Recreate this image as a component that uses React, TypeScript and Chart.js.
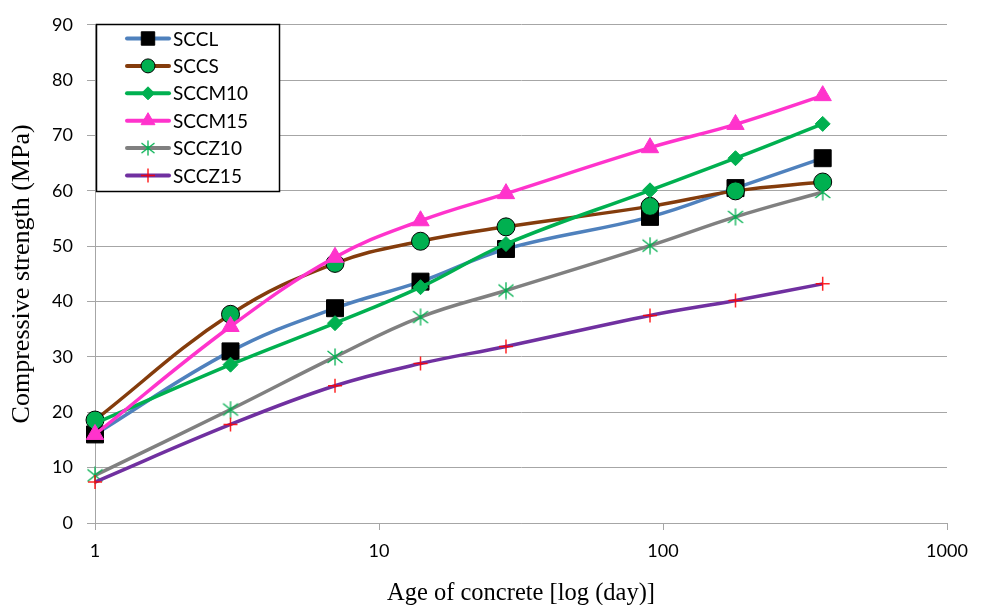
import React, { useEffect, useRef } from 'react';
import { Chart, registerables } from 'chart.js';
import { drawPoint } from 'chart.js/helpers';

Chart.register(...registerables);

const days = [1, 3, 7, 14, 28, 90, 180, 365];
const xTicks = [1, 10, 100, 1000];
const seriesNames = ['SCCL', 'SCCS', 'SCCM10', 'SCCM15', 'SCCZ10', 'SCCZ15'];
const SCCL = [16.0, 31.0, 38.8, 43.6, 49.5, 55.3, 60.5, 65.9];
const SCCS = [18.6, 37.7, 46.9, 50.9, 53.5, 57.2, 60.0, 61.6];
const SCCM10 = [18.0, 28.6, 36.1, 42.6, 50.4, 60.1, 65.9, 72.1];
const SCCM15 = [16.0, 35.5, 48.0, 54.6, 59.5, 67.8, 72.0, 77.2];
const SCCZ10 = [8.6, 20.5, 30.0, 37.2, 42.0, 50.1, 55.3, 59.8];
const SCCZ15 = [7.4, 17.8, 24.8, 28.8, 31.9, 37.5, 40.2, 43.2];

function makeStar(size: number) {
  const c = document.createElement('canvas');
  c.width = size;
  c.height = size;
  const g = c.getContext('2d')!;
  g.strokeStyle = '#00b050';
  g.lineWidth = 1.3;
  const m = size / 2;
  g.beginPath();
  g.moveTo(m, 0.5);
  g.lineTo(m, size - 0.5);
  g.moveTo(1.5, 3);
  g.lineTo(size - 1.5, size - 3);
  g.moveTo(1.5, size - 3);
  g.lineTo(size - 1.5, 3);
  g.stroke();
  return c;
}

const legendPlugin = {
  id: 'boxLegend',
  afterDraw(chart: any) {
    const ctx = chart.ctx as CanvasRenderingContext2D;
    const legendRadius = [9.5, 7, 6.5, 8, 7, 7];
    ctx.save();
    const x0 = 96.5, y0 = 24.5, w = 183, h = 167;
    ctx.fillStyle = '#ffffff';
    ctx.fillRect(x0, y0, w, h);
    ctx.strokeStyle = '#000000';
    ctx.lineWidth = 1.5;
    ctx.strokeRect(x0, y0, w, h);
    chart.data.datasets.forEach((ds: any, i: number) => {
      const cy = 38.5 + i * 27.4;
      ctx.strokeStyle = ds.borderColor;
      ctx.lineWidth = 4;
      ctx.lineCap = 'round';
      ctx.beginPath();
      ctx.moveTo(127, cy);
      ctx.lineTo(169, cy);
      ctx.stroke();
      ctx.lineCap = 'butt';
      ctx.fillStyle = ds.pointBackgroundColor;
      ctx.strokeStyle = ds.pointBorderColor;
      ctx.lineWidth = ds.pointBorderWidth;
      let style = ds.pointStyle;
      if (style instanceof HTMLCanvasElement) style = ds.legendStar;
      drawPoint(ctx, { pointStyle: style, radius: legendRadius[i], borderWidth: ds.pointBorderWidth, rotation: 0 } as any, 148, cy);
      ctx.fillStyle = '#000';
      ctx.font = '19px Lato';
      ctx.textAlign = 'left';
      ctx.textBaseline = 'middle';
      ctx.fillText(ds.label, 173, cy + 1);
    });
    ctx.restore();
  },
};

export default function App() {
  const ref = useRef<HTMLCanvasElement>(null);
  useEffect(() => {
    document.body.style.margin = '0';
    document.body.style.overflow = 'hidden';
    const star = makeStar(18);
    const legendStar = makeStar(16);
    const values = [SCCL, SCCS, SCCM10, SCCM15, SCCZ10, SCCZ15];
    const lineColors = ['#4f81bd', '#843c0c', '#00b050', '#ff33cc', '#808080', '#7030a0'];
    const styles: any[] = ['rect', 'circle', 'rectRot', 'triangle', star, 'cross'];
    const radii = [12, 9, 7.5, 10, 9, 7];
    const fills = ['#000000', '#00b050', '#00b050', '#ff33cc', '#00b050', '#ff0000'];
    const borders = ['#000000', '#000000', '#00b050', '#ff33cc', '#00b050', 'rgba(255,0,0,0.85)'];
    const bw = [1, 1, 1, 1, 1, 1.5];
    const datasets = seriesNames.map((name, i) => ({
      label: name,
      data: days.map((d, j) => ({ x: d, y: values[i][j] })),
      borderColor: lineColors[i],
      backgroundColor: lineColors[i],
      borderWidth: 3.5,
      tension: 0.4,
      pointStyle: styles[i],
      pointRadius: radii[i],
      pointHoverRadius: radii[i],
      pointBackgroundColor: fills[i],
      pointBorderColor: borders[i],
      pointBorderWidth: bw[i],
      legendStar,
      order: 5 - i,
      clip: false as any,
    }));
    const chart = new Chart(ref.current!, {
      type: 'line',
      data: { datasets },
      plugins: [legendPlugin],
      options: {
        animation: false,
        responsive: false,
        maintainAspectRatio: false,
        layout: { padding: { top: 24, right: 35, left: 0, bottom: 0 } },
        plugins: { legend: { display: false }, tooltip: { enabled: false } },
        scales: {
          x: {
            type: 'logarithmic',
            min: 1,
            max: 1000,
            afterBuildTicks: (scale: any) => {
              scale.ticks = xTicks.map((v) => ({ value: v }));
            },
            afterFit: (scale: any) => {
              scale.height = 82;
            },
            ticks: {
              autoSkip: false,
              maxRotation: 0,
              color: '#000',
              font: { family: 'Lato', size: 18 },
              padding: 10,
              callback: (v: any) => String(v),
            },
            grid: { drawOnChartArea: false, drawTicks: true, tickLength: 7, color: '#a6a6a6' },
            border: { display: true, color: '#a6a6a6', width: 1 },
            title: {
              display: true,
              text: 'Age of concrete [log (day)]',
              color: '#000',
              font: { family: 'Liberation Serif', size: 24.5 },
              padding: { top: 4, bottom: -3 },
            },
          },
          y: {
            min: 0,
            max: 90,
            afterFit: (scale: any) => {
              scale.width = 95;
            },
            ticks: {
              stepSize: 10,
              color: '#000',
              font: { family: 'Lato', size: 18 },
              padding: 14,
            },
            grid: { color: '#a6a6a6', tickLength: 8, lineWidth: 1 },
            border: { display: true, color: '#a6a6a6', width: 1 },
            title: {
              display: true,
              text: 'Compressive strength (MPa)',
              color: '#000',
              font: { family: 'Liberation Serif', size: 26 },
              padding: { top: 7, bottom: 4 },
            },
          },
        },
      },
    });
    return () => chart.destroy();
  }, []);
  return (
    <div style={{ width: 982, height: 605 }}>
      <canvas ref={ref} width={982} height={605} style={{ display: 'block' }} />
    </div>
  );
}
